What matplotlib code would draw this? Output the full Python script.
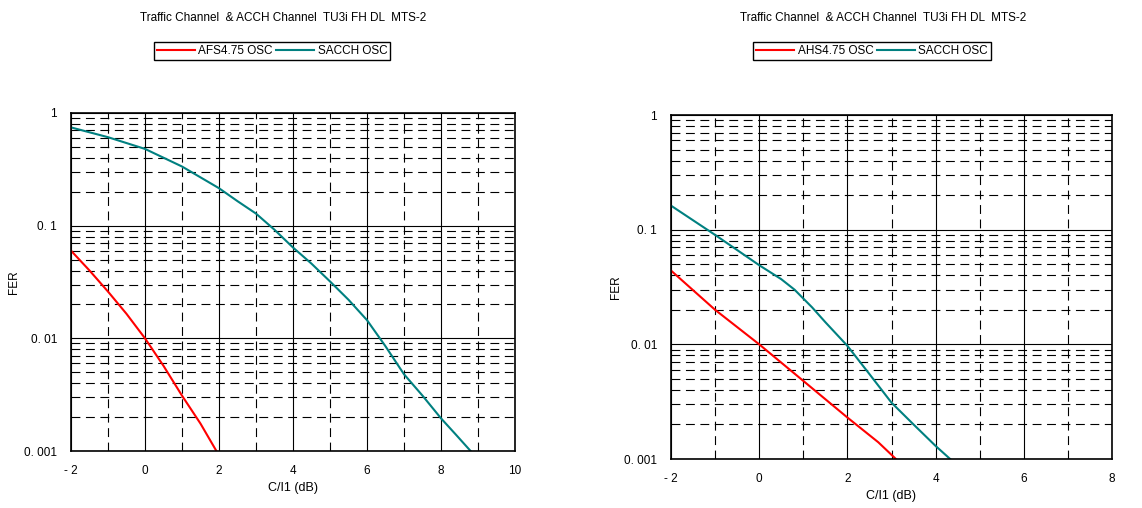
import matplotlib
matplotlib.use("Agg")
import matplotlib.pyplot as plt
import numpy as np
from matplotlib.ticker import FixedLocator, NullFormatter

plt.rcParams["font.family"] = ["Liberation Sans", "DejaVu Sans"]

# left panel: AFS4.75 / SACCH
left_red_x = [-2, -1.5, -1, -0.5, 0, 0.5, 1, 1.5, 1.93]
left_red_y = [0.060, 0.040, 0.026, 0.0165, 0.010, 0.0057, 0.0031, 0.00175, 0.001]
left_teal_x = [-2, -1, 0, 1, 2, 2.5, 3, 3.5, 4, 4.5, 5, 5.5, 6, 6.5, 7, 7.5, 8, 8.4, 8.8]
left_teal_y = [0.745, 0.61, 0.48, 0.335, 0.215, 0.165, 0.128, 0.092, 0.064, 0.046, 0.032, 0.022, 0.0145,
               0.0085, 0.0048, 0.0031, 0.00195, 0.0014, 0.001]

# right panel: AHS4.75 / SACCH
right_red_x = [-2, -1, 0, 1, 2, 2.7, 3.1]
right_red_y = [0.044, 0.020, 0.010, 0.0048, 0.0023, 0.0014, 0.001]
right_teal_x = [-2, -1, 0, 0.5, 0.8, 1.2, 1.5, 2, 2.5, 3, 3.5, 4, 4.33]
right_teal_y = [0.162, 0.090, 0.049, 0.037, 0.030, 0.021, 0.0156, 0.0097, 0.0055, 0.0031, 0.0020, 0.0013, 0.001]

title = "Traffic Channel  & ACCH Channel  TU3i FH DL  MTS-2"
red = "#ff0000"
teal = "#008080"

fig = plt.figure(figsize=(11.42, 5.08), dpi=100)


def panel(rect, xmax, red_x, red_y, teal_x, teal_y, red_label, title_x, legend_x, fer_x):
    ax = fig.add_axes(rect)
    ax.set_yscale("log")
    ax.set_xlim(-2, xmax)
    ax.set_ylim(0.001, 1)

    # grid: solid majors, dashed minors
    ax.xaxis.set_major_locator(FixedLocator(np.arange(-2, xmax + 1, 2)))
    ax.xaxis.set_minor_locator(FixedLocator(np.arange(-1, xmax, 2)))
    minors = [m * 10.0 ** e for e in (-3, -2, -1) for m in range(2, 10)]
    ax.yaxis.set_minor_locator(FixedLocator(minors))
    ax.yaxis.set_minor_formatter(NullFormatter())
    ax.set_yticks([0.001, 0.01, 0.1, 1])
    ax.set_yticklabels(["0. 001", "0. 01", "0. 1", "1"])
    ax.set_xticklabels([("- 2" if v == -2 else str(v)) for v in np.arange(-2, xmax + 1, 2)])
    ax.grid(True, which="major", color="black", lw=0.8, ls="-")
    ax.grid(True, which="minor", color="black", lw=0.8, ls=(0, (8, 5)))
    ax.tick_params(which="both", length=0, labelsize=8.5, pad=10)
    for s in ax.spines.values():
        s.set_linewidth(1.2)

    l1, = ax.plot(red_x, red_y, color=red, lw=1.5)
    l2, = ax.plot(teal_x, teal_y, color=teal, lw=1.5)

    ax.set_xlabel("C/I1 (dB)", fontsize=9, labelpad=4)
    yc = rect[1] + rect[3] / 2
    fig.text(fer_x, yc, "FER", rotation=90, ha="center", va="center", fontsize=8.5)

    fig.text(title_x, 1 - 18 / 508, title, ha="center", va="center", fontsize=8.5)
    fig.legend([l1, l2], [red_label, "SACCH OSC"], loc="center",
               bbox_to_anchor=(legend_x, 1 - 51 / 508), ncol=2, fontsize=8.5,
               frameon=True, fancybox=False, edgecolor="black", framealpha=1,
               handlelength=3.2, handletextpad=0.3, columnspacing=0.3,
               borderpad=0.25, borderaxespad=0)
    return ax


panel([71 / 1142, 1 - 451 / 508, 444 / 1142, 338 / 508], 10,
      left_red_x, left_red_y, left_teal_x, left_teal_y, "AFS4.75 OSC",
      283 / 1142, 272 / 1142, 14 / 1142)
panel([671 / 1142, 1 - 459 / 508, 441 / 1142, 344 / 508], 8,
      right_red_x, right_red_y, right_teal_x, right_teal_y, "AHS4.75 OSC",
      883 / 1142, 872 / 1142, 616 / 1142)

fig.savefig("out.png", dpi=100)
